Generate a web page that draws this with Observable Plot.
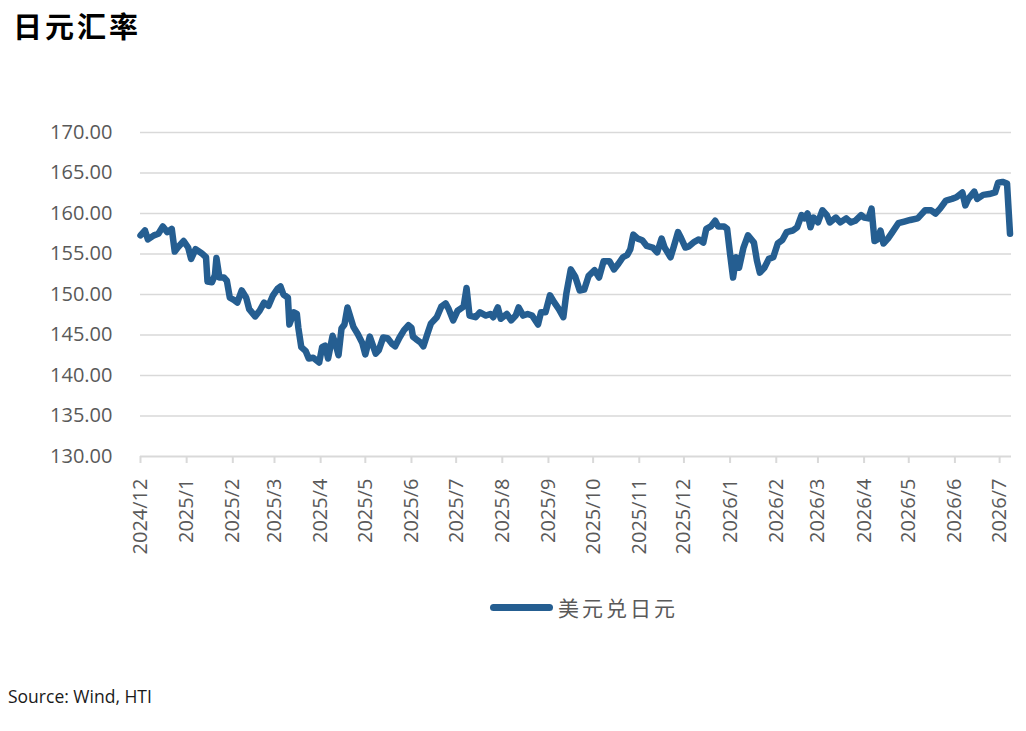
<!DOCTYPE html>
<html>
<head>
<meta charset="utf-8">
<script src="https://cdn.jsdelivr.net/npm/d3@7"></script>
<script src="https://cdn.jsdelivr.net/npm/@observablehq/plot@0.6"></script>
<style>
  body { margin: 0; background: #fff; width: 1026px; height: 731px; overflow: hidden; position: relative; font-family: "Open Sans", sans-serif; }
  #title { position: absolute; left: 13px; top: 0; height: 50px; line-height: 50px; font-family: "Noto Sans CJK SC", sans-serif; font-weight: 700; font-size: 29px; color: #000; letter-spacing: 3px; }
  #chart { position: absolute; left: 0; top: 50px; }
  #legend { position: absolute; left: 490px; top: 592px; height: 30px; display: flex; align-items: center; }
  #legend .swatch { width: 63px; height: 7px; border-radius: 4px; background: #255e91; margin-right: 5px; }
  #legend .label { font-family: "Noto Sans CJK SC", sans-serif; font-size: 21px; color: #595959; letter-spacing: 3px; }
  #source { position: absolute; left: 8px; top: 684px; font-family: "Open Sans", sans-serif; font-size: 17.5px; color: #1a1a1a; }
</style>
</head>
<body>
<div id="title">日元汇率</div>
<div id="chart"></div>
<div id="legend"><div class="swatch"></div><div class="label">美元兑日元</div></div>
<div id="source">Source: Wind, HTI</div>
<script>
const seriesName = "美元兑日元";

const dates = [
  "2024-12-01","2024-12-04","2024-12-06","2024-12-10","2024-12-13","2024-12-16","2024-12-19","2024-12-22","2024-12-24","2024-12-26","2024-12-30",
  "2025-01-02","2025-01-04","2025-01-07","2025-01-11","2025-01-14","2025-01-15","2025-01-18","2025-01-20","2025-01-21","2025-01-23","2025-01-26","2025-01-28","2025-01-30",
  "2025-02-02","2025-02-04","2025-02-07","2025-02-10","2025-02-12","2025-02-16","2025-02-19","2025-02-22","2025-02-25","2025-02-28",
  "2025-03-03","2025-03-05","2025-03-07","2025-03-10","2025-03-11","2025-03-14","2025-03-16","2025-03-17","2025-03-19","2025-03-22","2025-03-24","2025-03-27","2025-03-31",
  "2025-04-02","2025-04-04","2025-04-06","2025-04-09","2025-04-11","2025-04-13","2025-04-15","2025-04-17","2025-04-19","2025-04-23","2025-04-26","2025-04-29",
  "2025-05-01","2025-05-04","2025-05-08","2025-05-10","2025-05-13","2025-05-16","2025-05-19","2025-05-21","2025-05-24","2025-05-27","2025-05-30",
  "2025-06-01","2025-06-02","2025-06-04","2025-06-07","2025-06-09","2025-06-12","2025-06-14","2025-06-18","2025-06-21","2025-06-24","2025-06-26","2025-06-29",
  "2025-07-02","2025-07-06","2025-07-08","2025-07-10","2025-07-14","2025-07-17","2025-07-21","2025-07-24","2025-07-26","2025-07-29","2025-07-31",
  "2025-08-04","2025-08-07","2025-08-10","2025-08-12","2025-08-15","2025-08-18","2025-08-21","2025-08-25","2025-08-27","2025-08-30",
  "2025-09-02","2025-09-05","2025-09-08","2025-09-11","2025-09-13","2025-09-16","2025-09-19","2025-09-22","2025-09-25","2025-09-28",
  "2025-10-02","2025-10-05","2025-10-08","2025-10-12","2025-10-15","2025-10-18","2025-10-21","2025-10-24","2025-10-26","2025-10-28","2025-10-31",
  "2025-11-03","2025-11-06","2025-11-10","2025-11-13","2025-11-16","2025-11-18","2025-11-22","2025-11-24","2025-11-27","2025-11-29",
  "2025-12-02","2025-12-04","2025-12-08","2025-12-11","2025-12-14","2025-12-16","2025-12-19","2025-12-22","2025-12-24","2025-12-28","2025-12-30",
  "2026-01-01","2026-01-03","2026-01-05","2026-01-07","2026-01-10","2026-01-13","2026-01-17","2026-01-19","2026-01-21","2026-01-24","2026-01-27","2026-01-30",
  "2026-02-02","2026-02-05","2026-02-08","2026-02-12","2026-02-15","2026-02-18","2026-02-20","2026-02-22","2026-02-24","2026-02-26",
  "2026-03-01","2026-03-04","2026-03-07","2026-03-09","2026-03-13","2026-03-16","2026-03-20","2026-03-23","2026-03-26","2026-03-30",
  "2026-04-01","2026-04-04","2026-04-06","2026-04-08","2026-04-10","2026-04-12","2026-04-14","2026-04-17","2026-04-20","2026-04-24","2026-04-28",
  "2026-05-02","2026-05-07","2026-05-09","2026-05-12","2026-05-16","2026-05-19","2026-05-22","2026-05-26","2026-05-30",
  "2026-06-02","2026-06-06","2026-06-08","2026-06-10","2026-06-14","2026-06-16","2026-06-20","2026-06-24","2026-06-28","2026-06-30",
  "2026-07-03","2026-07-06","2026-07-08"
];

const values = [
  157.3,157.9,156.8,157.3,157.5,158.4,157.7,158.1,155.3,155.8,156.6,
  155.8,154.4,155.6,155.1,154.6,151.6,151.5,152.4,154.5,152.1,152.1,151.7,149.6,
  149.3,149.0,150.5,149.6,148.2,147.3,148.0,149.0,148.6,149.9,
  150.7,151.0,150.0,149.6,146.3,147.8,147.6,145.9,143.5,143.0,142.1,142.2,141.6,
  143.5,143.7,142.1,144.9,143.9,142.5,145.8,146.3,148.4,146.0,145.1,144.0,
  142.6,144.8,142.7,143.1,144.7,144.6,143.9,143.6,144.7,145.6,146.2,
  145.9,144.8,144.5,144.1,143.6,145.3,146.4,147.2,148.5,148.9,148.2,146.8,
  148.0,148.5,150.8,147.4,147.2,147.8,147.4,147.6,147.2,148.4,147.0,
  147.6,146.8,147.4,148.4,147.4,147.6,147.4,146.3,147.8,147.8,
  149.9,149.0,148.2,147.2,150.1,153.1,152.2,150.5,150.6,152.3,
  153.0,152.1,154.1,154.1,153.1,153.8,154.6,154.9,155.6,157.4,156.9,
  156.7,156.0,155.8,155.2,156.9,155.8,154.6,155.8,157.7,157.0,
  155.8,155.9,156.5,156.8,156.4,158.1,158.4,159.1,158.4,158.4,158.1,
  155.0,152.1,154.6,153.3,155.8,157.3,156.4,154.2,152.7,153.3,154.4,154.6,
  156.3,156.7,157.7,157.9,158.3,159.8,159.4,160.0,158.3,159.5,
  158.9,160.4,159.8,158.9,159.5,158.9,159.4,158.9,159.1,159.8,
  159.5,159.4,160.6,156.6,156.8,157.9,156.3,156.9,157.7,158.8,159.0,
  159.2,159.4,159.8,160.4,160.4,160.0,160.6,161.6,161.8,
  162.0,162.6,161.0,161.8,162.7,161.8,162.3,162.4,162.6,163.8,
  163.9,163.7,157.5
];

const tickLabels = [
  "2024/12","2025/1","2025/2","2025/3","2025/4","2025/5","2025/6","2025/7","2025/8","2025/9",
  "2025/10","2025/11","2025/12","2026/1","2026/2","2026/3","2026/4","2026/5","2026/6","2026/7"
];

const yTicks = [130, 135, 140, 145, 150, 155, 160, 165, 170];

const data = dates.map((d, i) => ({date: new Date(d + "T00:00:00Z"), value: values[i], series: seriesName}));
const tickDates = tickLabels.map(s => { const [y, m] = s.split("/").map(Number); return new Date(Date.UTC(y, m - 1, 1)); });
const labelByTime = new Map(tickDates.map((d, i) => [+d, tickLabels[i]]));

const chart = Plot.plot({
  width: 1026,
  height: 520,
  marginLeft: 140,
  marginRight: 15,
  marginTop: 82,
  marginBottom: 114,
  style: {fontFamily: "Open Sans, sans-serif", fontSize: "20px", color: "#595959", background: "#fff"},
  x: {type: "utc", domain: [new Date("2024-12-01T00:00:00Z"), new Date("2026-07-09T00:00:00Z")]},
  y: {domain: [130, 170]},
  marks: [
    Plot.ruleY(yTicks.slice(1), {stroke: "#d9d9d9", strokeWidth: 1.6}),
    Plot.ruleY([130], {stroke: "#d9d9d9", strokeWidth: 2}),
    Plot.axisX({ticks: tickDates, tickFormat: d => labelByTime.get(+d), tickRotate: -90, tickSize: 7, tickPadding: 15, stroke: "#d9d9d9", strokeWidth: 2, fill: "#595959", label: null}),
    Plot.axisY({ticks: yTicks, tickFormat: d3.format(".2f"), tickSize: 0, tickPadding: 28, fill: "#595959", label: null}),
    Plot.line(data, {x: "date", y: "value", stroke: "#255e91", strokeWidth: 6.5, strokeLinejoin: "round", strokeLinecap: "round"})
  ]
});
document.getElementById("chart").appendChild(chart);
</script>
</body>
</html>
